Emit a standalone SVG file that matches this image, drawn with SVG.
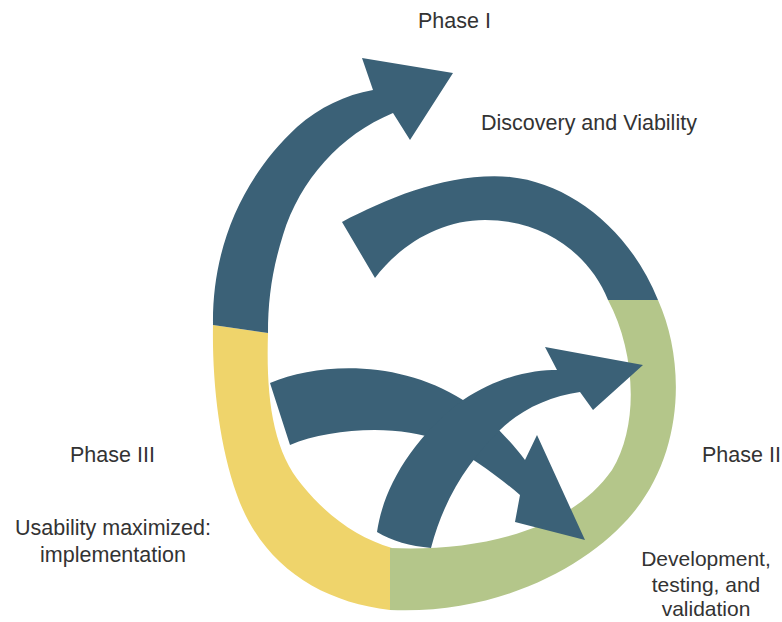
<svg xmlns="http://www.w3.org/2000/svg" width="782" height="622" viewBox="0 0 782 622">
<style>
.blue{fill:#3b6177}
.yellow{fill:#efd46b}
.green{fill:#b4c68a}
.lbl{font-family:"Liberation Sans",Arial,sans-serif;font-size:21.5px;fill:#333;}
.sm{font-size:21px}
.mid{text-anchor:middle}
</style>
<rect width="782" height="622" fill="#fff"/>
<g id="ring">
<g id="phase3-segment"><path class="yellow" d="M213,325 L268,333 C266,395 272,450 302,485 C328,517 358,538 392,548 L390,610 C320,602 262,565 237,495 C219,445 212,380 213,325 Z"/></g>
<g id="phase2-segment"><path class="green" d="M390,548 C480,552 570,530 612,470 C640,425 635,350 608,300 L658,300 C685,360 685,450 633,513 C590,565 500,615 390,610 Z"/></g>
</g>
<g id="connectors">
<path id="arrow-phase1" class="blue" d="M213,325 C212,250 240,180 297,127 C320,107 345,95 373,90 L362,58 L453,73 L410,140 L393,113 C340,135 300,180 283,235 C272,270 268,300 268,333 Z"/>
<path id="arc-top" class="blue" d="M342,222 C390,197 450,172 510,177 C570,183 630,230 658,300 L608,300 C590,255 545,220 485,220 C440,220 400,245 375,278 Z"/>
<path id="arrow-a" class="blue" d="M270,383 C320,362 400,360 463,400 C485,414 510,440 525,460 L537,435 L585,540 L515,522 L520,495 C500,478 470,455 440,441 C400,424 330,428 290,445 Z"/>
<path id="arrow-b" class="blue" d="M377,532 C383,490 410,440 463,400 C500,375 535,370 557,370 L545,347 L643,365 L593,410 L580,392 C550,396 520,410 500,430 C470,460 445,495 431,548 C410,546 392,541 377,532 Z"/>
</g>
<g id="phase1-label">
<text class="lbl" x="418" y="28">Phase I</text>
<text class="lbl" x="481" y="130">Discovery and Viability</text>
</g>
<g id="phase3-label">
<text class="lbl" x="70" y="462">Phase III</text>
<text class="lbl mid" x="113" y="535">Usability maximized:</text>
<text class="lbl mid" x="113" y="562">implementation</text>
</g>
<g id="phase2-label">
<text class="lbl" x="702" y="462">Phase II</text>
<text class="lbl sm mid" x="706" y="566">Development,</text>
<text class="lbl sm mid" x="706" y="592">testing, and</text>
<text class="lbl sm mid" x="706" y="616">validation</text>
</g>
</svg>
